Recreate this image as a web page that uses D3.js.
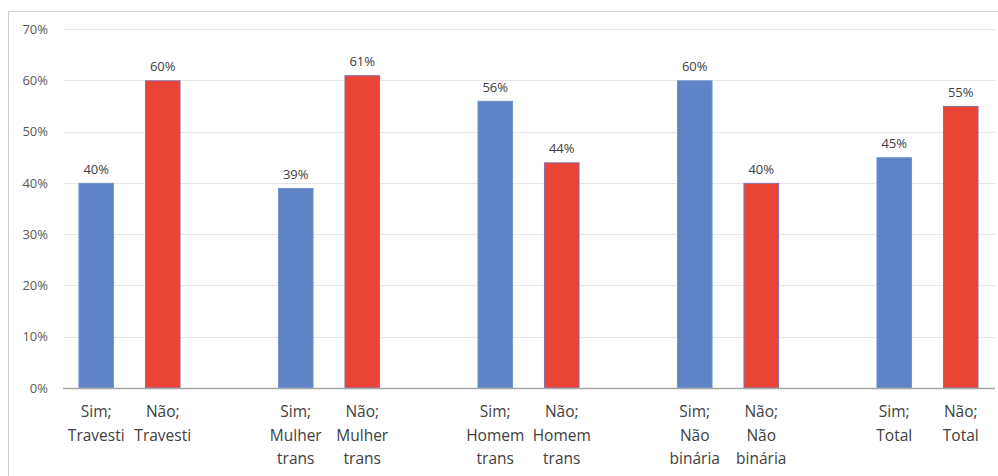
<!DOCTYPE html>
<html><head><meta charset="utf-8">
<script src="https://cdn.jsdelivr.net/npm/d3@7"></script>
<style>body{margin:0;background:#fff;}svg{display:block;}</style>
</head><body>
<svg id="c" width="998" height="476"></svg>
<script>
const categories = ["Sim; Travesti","Não; Travesti","gap1","Sim; Mulher trans","Não; Mulher trans","gap2","Sim; Homem trans","Não; Homem trans","gap3","Sim; Não binária","Não; Não binária","gap4","Sim; Total","Não; Total"];
const labelLines = [["Sim;","Travesti"],["Não;","Travesti"],[],["Sim;","Mulher","trans"],["Não;","Mulher","trans"],[],["Sim;","Homem","trans"],["Não;","Homem","trans"],[],["Sim;","Não","binária"],["Não;","Não","binária"],[],["Sim;","Total"],["Não;","Total"]];
const values = [0.40,0.60,null,0.39,0.61,null,0.56,0.44,null,0.60,0.40,null,0.45,0.55];
const kinds = ["sim","nao",null,"sim","nao",null,"sim","nao",null,"sim","nao",null,"sim","nao"];
const yTicks = [0,0.1,0.2,0.3,0.4,0.5,0.6,0.7];

const svg = d3.select("#c");
const font = "'Open Sans', sans-serif";
const mLeft = 63, mRight = 994, mTop = 29, mBottom = 388;

svg.append("path").attr("d","M8.5,476 V11.5 H998").attr("fill","none").attr("stroke","#d0d0d0").attr("stroke-width",1);

const x = d3.scaleBand().domain(categories).range([mLeft,mRight]).paddingInner(0.465).paddingOuter(0.2325);
const y = d3.scaleLinear().domain([0,0.7]).range([mBottom,mTop]);

svg.append("g").selectAll("line").data(yTicks.filter(d=>d>0)).join("line")
  .attr("x1",mLeft).attr("x2",mRight+1).attr("y1",d=>Math.round(y(d))+0.5).attr("y2",d=>Math.round(y(d))+0.5)
  .attr("stroke","#e6e6e6").attr("stroke-width",1);

const yAxis = svg.append("g").attr("transform",`translate(${mLeft},0)`)
  .call(d3.axisLeft(y).tickValues(yTicks).tickFormat(d3.format(".0%")).tickSize(0).tickPadding(15));
yAxis.select(".domain").remove();
yAxis.selectAll("text").attr("font-family",font).attr("font-size",13).attr("fill","#595959");

const data = categories.map((c,i)=>({c,v:values[i],k:kinds[i],lines:labelLines[i]}));
const bars = data.filter(d=>d.v!==null);

svg.append("g").selectAll("rect").data(bars).join("rect")
  .attr("x",d=>x(d.c)+0.5).attr("width",x.bandwidth()-1)
  .attr("y",d=>y(d.v)+0.5).attr("height",d=>mBottom-y(d.v)-0.5)
  .attr("fill",d=>d.k==="sim"?"#6083c5":"#e94436")
  .attr("stroke",d=>d.k==="sim"?"#7393cf":"#8a6fa8").attr("stroke-width",1);

svg.append("line").attr("x1",mLeft).attr("x2",mRight+1).attr("y1",mBottom+0.5).attr("y2",mBottom+0.5)
  .attr("stroke","#a6a6a6").attr("stroke-width",1.5);

svg.append("g").selectAll("text").data(bars).join("text")
  .attr("x",d=>x(d.c)+x.bandwidth()/2).attr("y",d=>y(d.v)-9)
  .attr("text-anchor","middle").attr("font-family",font).attr("font-size",13).attr("fill","#404040")
  .text(d=>d3.format(".0%")(d.v));

const lab = svg.append("g").selectAll("text").data(bars).join("text")
  .attr("text-anchor","middle").attr("font-family",font).attr("font-size",15.5).attr("fill","#404040");
lab.each(function(d){
  const t = d3.select(this);
  d.lines.forEach((ln,j)=>{
    t.append("tspan").attr("x",x(d.c)+x.bandwidth()/2).attr("y",417+j*23.5).text(ln);
  });
});
</script>
</body></html>
